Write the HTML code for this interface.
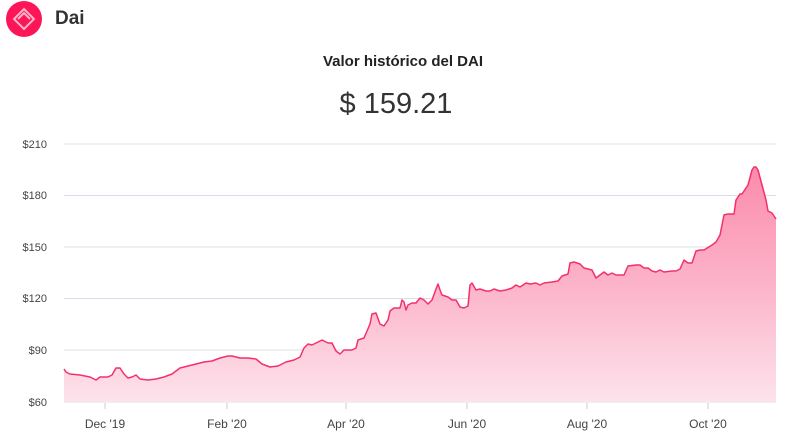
<!DOCTYPE html>
<html><head><meta charset="utf-8"><style>
body{margin:0;width:786px;height:442px;background:#fff;overflow:hidden;font-family:"Liberation Sans",sans-serif;position:relative}
.t{position:absolute;white-space:nowrap}
</style></head><body>
<svg width="786" height="442" style="position:absolute;left:0;top:0">
<defs><linearGradient id="g" gradientUnits="userSpaceOnUse" x1="0" y1="165" x2="0" y2="402">
<stop offset="0" stop-color="#fb8aad"/><stop offset="0.5" stop-color="#fcb3c9"/><stop offset="1" stop-color="#fde3ec"/></linearGradient></defs>
<circle cx="24" cy="19" r="18" fill="#fc1658"/>
<g fill="none" stroke="#ffb3c8" stroke-width="2"><path d="M24 9 L34 19 L24 29 L14 19 Z"/><path d="M18 19 L24 13 L30 19"/></g>
<g stroke="#dcdcea" stroke-width="1">
<line x1="64" y1="144" x2="776" y2="144"/><line x1="64" y1="195.5" x2="776" y2="195.5"/><line x1="64" y1="247" x2="776" y2="247"/><line x1="64" y1="298.5" x2="776" y2="298.5"/><line x1="64" y1="350" x2="776" y2="350"/><line x1="64" y1="402" x2="776" y2="402"/>
</g>
<g stroke="#ccc"><line x1="105" y1="403" x2="105" y2="409"/><line x1="227" y1="403" x2="227" y2="409"/><line x1="346" y1="403" x2="346" y2="409"/><line x1="467" y1="403" x2="467" y2="409"/><line x1="587" y1="403" x2="587" y2="409"/><line x1="708" y1="403" x2="708" y2="409"/></g>
<polygon fill="url(#g)" points="64,402 64,369 66,372 70,374 80,375 90,377 96,380 100,377 108,377 112,375 116,368 120,368 124,374 128,378 132,377 136,375 140,379 148,380 156,379 164,377 172,374 180,368 184,367 188,366 196,364 204,362 212,361 220,358 228,356 232,356 240,358 248,358 256,359 262,364 270,367 278,366 286,362 294,360 300,357 304,348 308,344 312,345 316,343 322,340 328,343 332,343 336,351 340,354 344,350 352,350 356,348 358,340 364,338 370,324 372,314 376,313 380,324 384,326 388,320 390,311 394,308 400,308 402,300 404,302 406,310 408,305 412,303 416,303 420,298 424,300 428,304 432,300 436,289 438,284 440,290 442,295 448,297 452,300 456,300 460,307 464,308 468,306 470,285 472,283 476,290 480,289 486,291 490,291 494,289 500,291 506,290 512,288 516,285 520,287 526,283 530,284 536,283 540,285 544,283 552,282 558,281 562,276 568,274 570,263 574,262 580,264 584,268 592,270 596,278 600,275 604,272 608,275 612,273 616,275 624,275 628,266 636,265 640,265 644,268 648,268 652,271 656,272 660,270 664,272 672,271 676,271 680,269 684,260 688,263 692,263 696,251 700,250 704,250 712,245 716,242 720,235 724,215 728,214 734,214 736,200 740,194 742,194 744,191 748,185 752,170 754,167 756,167 758,170 762,185 766,200 768,211 772,213 776,219 776,402"/>
<polyline fill="none" stroke="#f4306a" stroke-width="1.5" stroke-linejoin="round" points="64,369 66,372 70,374 80,375 90,377 96,380 100,377 108,377 112,375 116,368 120,368 124,374 128,378 132,377 136,375 140,379 148,380 156,379 164,377 172,374 180,368 184,367 188,366 196,364 204,362 212,361 220,358 228,356 232,356 240,358 248,358 256,359 262,364 270,367 278,366 286,362 294,360 300,357 304,348 308,344 312,345 316,343 322,340 328,343 332,343 336,351 340,354 344,350 352,350 356,348 358,340 364,338 370,324 372,314 376,313 380,324 384,326 388,320 390,311 394,308 400,308 402,300 404,302 406,310 408,305 412,303 416,303 420,298 424,300 428,304 432,300 436,289 438,284 440,290 442,295 448,297 452,300 456,300 460,307 464,308 468,306 470,285 472,283 476,290 480,289 486,291 490,291 494,289 500,291 506,290 512,288 516,285 520,287 526,283 530,284 536,283 540,285 544,283 552,282 558,281 562,276 568,274 570,263 574,262 580,264 584,268 592,270 596,278 600,275 604,272 608,275 612,273 616,275 624,275 628,266 636,265 640,265 644,268 648,268 652,271 656,272 660,270 664,272 672,271 676,271 680,269 684,260 688,263 692,263 696,251 700,250 704,250 712,245 716,242 720,235 724,215 728,214 734,214 736,200 740,194 742,194 744,191 748,185 752,170 754,167 756,167 758,170 762,185 766,200 768,211 772,213 776,219"/>
<g font-family="Liberation Sans,sans-serif" font-size="11" fill="#444" text-anchor="end">
<text x="47" y="148">$210</text><text x="47" y="199">$180</text><text x="47" y="251">$150</text><text x="47" y="302">$120</text><text x="47" y="354">$90</text><text x="47" y="406">$60</text>
</g>
<g font-family="Liberation Sans,sans-serif" font-size="12" fill="#444" text-anchor="middle">
<text x="105" y="428">Dec '19</text><text x="227" y="428">Feb '20</text><text x="346" y="428">Apr '20</text><text x="467" y="428">Jun '20</text><text x="587" y="428">Aug '20</text><text x="708" y="428">Oct '20</text>
</g>
</svg>
<div class="t" style="left:55px;top:8px;font-size:19px;font-weight:bold;color:#333">Dai</div>
<div class="t" style="left:0;width:806px;text-align:center;top:53px;font-size:15px;font-weight:bold;color:#222">Valor histórico del DAI</div>
<div class="t" style="left:0;width:792px;text-align:center;top:88px;font-size:29px;color:#333">$ 159.21</div>
</body></html>
